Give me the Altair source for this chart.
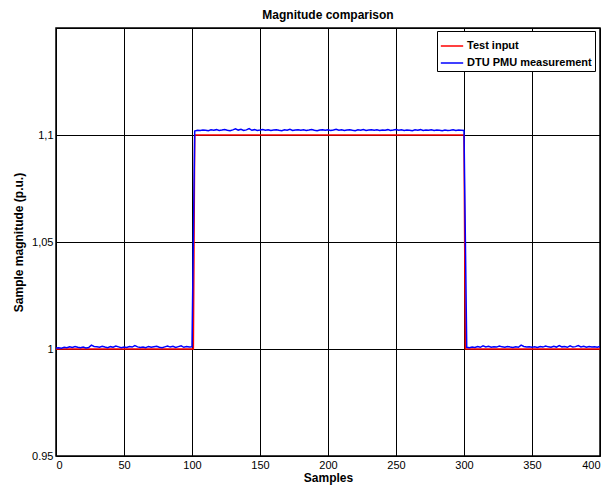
import altair as alt
import pandas as pd

# Test input (red step)
red_x = [0, 101, 102, 300, 301, 400]
red_y = [1.0, 1.0, 1.1, 1.1, 1.0, 1.0]

# DTU PMU measurement (blue), sampled every 2 samples
blue_x = list(range(0, 401, 2))
blue_pre = [
    1.0005, 1.0006, 1.0004, 1.0008, 1.0006, 1.0010, 1.0007, 1.0012, 1.0008, 1.0006,
    1.0009, 1.0005, 1.0007, 1.0018, 1.0012, 1.0010, 1.0008, 1.0013, 1.0009, 1.0006,
    1.0011, 1.0008, 1.0014, 1.0010, 1.0006, 1.0009, 1.0007, 1.0012, 1.0009, 1.0016,
    1.0010, 1.0007, 1.0009, 1.0006, 1.0012, 1.0008, 1.0011, 1.0013, 1.0008, 1.0006,
    1.0010, 1.0014, 1.0009, 1.0013, 1.0007, 1.0011, 1.0015, 1.0008, 1.0012, 1.0009,
    1.0010,
]
blue_mid = [
    1.1018, 1.1022, 1.1021, 1.1023, 1.1022, 1.1020, 1.1024, 1.1022, 1.1025, 1.1021,
    1.1023, 1.1026, 1.1022, 1.1020, 1.1024, 1.1029, 1.1023, 1.1027, 1.1021, 1.1024,
    1.1030, 1.1022, 1.1025, 1.1021, 1.1023, 1.1026, 1.1022, 1.1024, 1.1021, 1.1023,
    1.1025, 1.1022, 1.1020, 1.1024, 1.1022, 1.1027, 1.1021, 1.1023, 1.1025, 1.1022,
    1.1024, 1.1021, 1.1023, 1.1026, 1.1022, 1.1020, 1.1023, 1.1025, 1.1022, 1.1024,
    1.1021, 1.1023, 1.1027, 1.1022, 1.1024, 1.1021, 1.1023, 1.1025, 1.1022, 1.1020,
    1.1024, 1.1022, 1.1026, 1.1021, 1.1023, 1.1025, 1.1022, 1.1024, 1.1021, 1.1023,
    1.1022, 1.1025, 1.1021, 1.1023, 1.1026, 1.1022, 1.1024, 1.1021, 1.1023, 1.1022,
    1.1020, 1.1024, 1.1022, 1.1025, 1.1021, 1.1023, 1.1022, 1.1024, 1.1021, 1.1023,
    1.1022, 1.1020, 1.1023, 1.1021, 1.1022, 1.1024, 1.1021, 1.1023, 1.1022, 1.1021,
]
blue_post = [
    1.0008, 1.0006, 1.0009, 1.0007, 1.0012, 1.0008, 1.0015, 1.0010, 1.0013, 1.0008,
    1.0011, 1.0009, 1.0014, 1.0010, 1.0008, 1.0012, 1.0009, 1.0007, 1.0010, 1.0008,
    1.0018, 1.0012, 1.0009, 1.0011, 1.0008, 1.0010, 1.0007, 1.0012, 1.0009, 1.0014,
    1.0010, 1.0008, 1.0013, 1.0009, 1.0016, 1.0010, 1.0012, 1.0008, 1.0015, 1.0009,
    1.0011, 1.0016, 1.0010, 1.0013, 1.0008, 1.0012, 1.0009, 1.0011, 1.0008, 1.0012,
]
blue_y = blue_pre + blue_mid + blue_post

x_ticks = [0, 50, 100, 150, 200, 250, 300, 350, 400]
y_ticks = [0.95, 1.0, 1.05, 1.1, 1.15]

series = ["Test input", "DTU PMU measurement"]
colors = ["#ff0000", "#0000ff"]

df = pd.concat([
    pd.DataFrame({"x": red_x, "y": red_y, "s": series[0], "o": 0}),
    pd.DataFrame({"x": blue_x, "y": blue_y, "s": series[1], "o": 1}),
], ignore_index=True)

FONT = "Liberation Sans"

chart = alt.Chart(df).mark_line(strokeWidth=1.5, clip=True).encode(
    x=alt.X("x:Q", scale=alt.Scale(domain=[0, 400], nice=False, zero=False),
            axis=alt.Axis(values=x_ticks, title="Samples", format="d")),
    y=alt.Y("y:Q", scale=alt.Scale(domain=[0.95, 1.15], nice=False, zero=False),
            axis=alt.Axis(values=y_ticks, title="Sample magnitude (p.u.)",
                          labelExpr="datum.value == 0.95 ? '0.95' : datum.value == 1 ? '1' : datum.value == 1.05 ? '1,05' : datum.value == 1.1 ? '1,1' : ''")),
    color=alt.Color("s:N", scale=alt.Scale(domain=series, range=colors),
                    legend=alt.Legend(title=None, orient="none", legendX=381, legendY=3,
                                      symbolType="stroke", symbolSize=500, symbolStrokeWidth=1.5,
                                      labelFont=FONT, labelFontSize=11, labelFontWeight="bold",
                                      labelColor="black", labelOffset=3,
                                      fillColor="white", strokeColor="black", padding=3,
                                      rowPadding=-5, labelLimit=300)),
    order="o:Q",
).properties(
    width=544, height=428,
    title=alt.TitleParams("Magnitude comparison", font=FONT, fontSize=12, fontWeight="bold",
                          anchor="middle", offset=6, color="black"),
    autosize=alt.AutoSizeParams(type="none"),
    padding={"left": 48, "top": 20, "right": 5, "bottom": 30},
).configure_view(stroke="black", strokeWidth=1.5).configure_axis(
    grid=True, gridColor="black", gridOpacity=1, gridWidth=1,
    domain=False, ticks=False,
    labelFont=FONT, labelFontSize=11, labelColor="black",
    titleFont=FONT, titleFontSize=12, titleFontWeight="bold", titleColor="black",
).configure_axisX(labelPadding=3, titlePadding=2).configure_axisY(labelPadding=3, titlePadding=6)

chart.save("out.html", embed_options={"renderer": "svg", "actions": False})
